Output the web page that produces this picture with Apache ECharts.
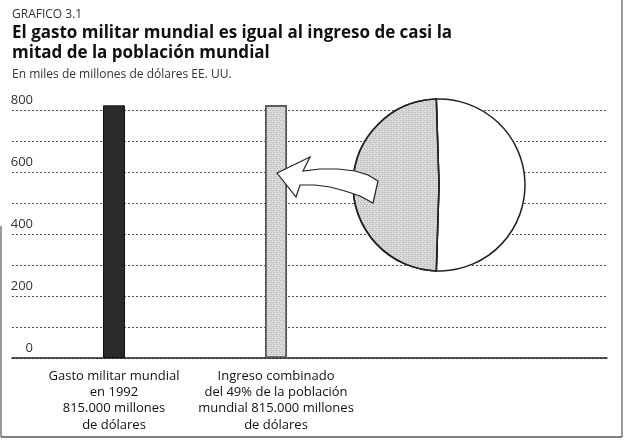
<!DOCTYPE html>
<html>
<head>
<meta charset="utf-8">
<script src="https://cdn.jsdelivr.net/npm/echarts@6/dist/echarts.min.js"></script>
<style>
  html, body { margin: 0; padding: 0; background: #fff; }
  #chart { width: 624px; height: 442px; }
</style>
</head>
<body>
<div id="chart"></div>
<script>
// datos del gráfico (miles de millones de dólares)
const categories = [
  'Gasto militar mundial\nen 1992\n815.000 millones\nde dólares',
  'Ingreso combinado\ndel 49% de la población\nmundial 815.000 millones\nde dólares'
]
const barValues = [815, 815]
const pieShares = [51, 49]   // resto de la población / 49% más pobre
const yTicks = [0, 200, 400, 600, 800]

const FONT = '"Open Sans", "DejaVu Sans", sans-serif'
const chart = echarts.init(document.getElementById('chart'))

// puntos de la flecha curva (decoración)
const arrowPoints = [
  [277, 173], [310, 157], [303, 171],
  [320, 169], [338, 169], [355, 171], [368, 175], [378, 181],
  [373, 203],
  [360, 196], [345, 191], [330, 187], [315, 185], [300, 185],
  [296, 197]
]

// textura punteada de la trama gris
const speckle = {
  symbol: 'rect', symbolSize: 1, color: 'rgba(0,0,0,0.18)',
  dashArrayX: [[1, 2], [0, 1, 1, 1]], dashArrayY: [1, 1], rotation: 0
}

const option = {
  backgroundColor: '#fff',
  animation: false,
  textStyle: { fontFamily: FONT },
  title: [
    {
      text: 'GRAFICO 3.1', left: 12, top: 7, padding: 0,
      textStyle: { fontSize: 12, fontWeight: 'normal', color: '#333', lineHeight: 16, fontFamily: FONT }
    },
    {
      text: 'El gasto militar mundial es igual al ingreso de casi la\nmitad de la población mundial',
      left: 12, top: 23, padding: 0,
      textStyle: { fontSize: 17, fontWeight: 'bold', color: '#111', lineHeight: 20, fontFamily: FONT }
    },
    {
      text: 'En miles de millones de dólares EE. UU.', left: 12, top: 67, padding: 0,
      textStyle: { fontSize: 12, fontWeight: 'normal', color: '#333', lineHeight: 16, fontFamily: FONT }
    }
  ],
  grid: [
    // rejilla de fondo con líneas punteadas
    { left: 12, right: 17, top: 110, bottom: 84 },
    // rejilla de las barras
    { left: 33, width: 324, top: 110, bottom: 84 }
  ],
  xAxis: [
    {
      gridIndex: 0, type: 'category', data: [''],
      axisLine: { show: true, lineStyle: { color: '#222', width: 1.5 } },
      axisTick: { show: false }, axisLabel: { show: false }
    },
    {
      gridIndex: 1, type: 'category', data: categories,
      axisLine: { show: false }, axisTick: { show: false },
      axisLabel: {
        interval: 0, margin: 10, fontSize: 13, lineHeight: 16.3,
        color: '#111', fontFamily: FONT
      }
    }
  ],
  yAxis: [
    {
      gridIndex: 0, type: 'value', min: 0, max: 800, interval: 100,
      axisLine: { show: false }, axisTick: { show: false },
      axisLabel: {
        inside: true, margin: 21, align: 'right', verticalAlign: 'bottom',
        padding: [0, 0, 3, 0], fontSize: 13, color: '#333', fontFamily: FONT,
        formatter: v => (yTicks.includes(v) ? String(v) : '')
      },
      splitLine: { show: true, lineStyle: { color: '#555', type: [2, 2], width: 1 } }
    },
    {
      gridIndex: 1, type: 'value', min: 0, max: 800, interval: 100, show: false
    }
  ],
  series: [
    {
      type: 'bar', xAxisIndex: 1, yAxisIndex: 1,
      barWidth: 22, z: 3, clip: false,
      data: barValues.map((v, i) => ({
        value: v,
        itemStyle: i === 0
          ? { color: '#2a2a2a', borderColor: '#111', borderWidth: 1 }
          : { color: '#dadada', borderColor: '#555', borderWidth: 1.5, decal: speckle }
      }))
    },
    {
      type: 'pie', center: [439, 185], radius: 86, startAngle: 91.8,
      z: 4, silent: true,
      label: { show: false }, labelLine: { show: false },
      data: [
        { value: pieShares[0], name: 'resto', itemStyle: { color: '#fff' } },
        { value: pieShares[1], name: '49%', itemStyle: { color: '#d8d8d8', decal: speckle } }
      ],
      itemStyle: { borderColor: '#222', borderWidth: 1.5 }
    }
  ],
  graphic: [
    {
      type: 'polygon', z: 100,
      shape: { points: arrowPoints },
      style: { fill: '#fff', stroke: '#222', lineWidth: 1.2 }
    },
    // marco
    { type: 'line', shape: { x1: 622, y1: 0, x2: 622, y2: 437 }, style: { stroke: '#777', lineWidth: 1.5 } },
    { type: 'line', shape: { x1: 1, y1: 437, x2: 622, y2: 437 }, style: { stroke: '#555', lineWidth: 1.5 } },
    { type: 'line', shape: { x1: 1, y1: 226, x2: 1, y2: 437 }, style: { stroke: '#777', lineWidth: 1.5 } }
  ]
}

chart.setOption(option)
</script>
</body>
</html>
